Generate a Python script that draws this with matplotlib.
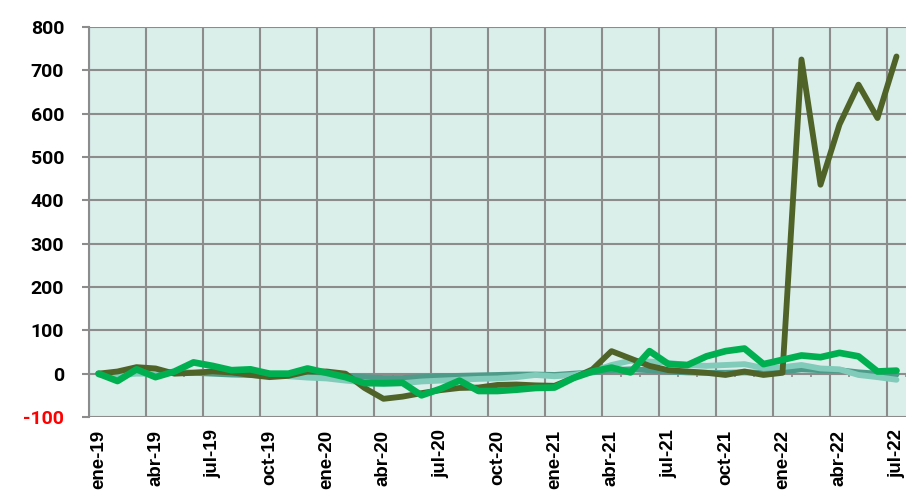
import numpy as np
import matplotlib
matplotlib.use("Agg")
import matplotlib.pyplot as plt

# month labels ene-19 .. jul-22 (43 months), one label every quarter
months = ["ene", "feb", "mar", "abr", "may", "jun", "jul", "ago", "sep", "oct", "nov", "dic"]
periods = [f"{months[i % 12]}-{19 + i // 12}" for i in range(43)]

# series values
olive = [0, 5, 15, 12, 0, 2, 5, 3, -3, -8, -5, 5, 5, 0, -33, -58, -53, -45, -38, -33,
         -32, -26, -25, -27, -28, -10, 10, 52, 35, 18, 8, 5, 2, -3, 5, -3, 2, 725,
         436, 575, 667, 590, 732]
green = [0, -17, 10, -8, 5, 26, 18, 8, 10, 0, 0, 12, 2, -8, -22, -22, -21, -50, -35, -16,
         -40, -40, -37, -33, -32, -10, 5, 14, 3, 52, 22, 20, 40, 52, 58, 22, 32, 42,
         38, 48, 40, 5, 7]
teal = [-2, -3, 0, 0, 2, 3, 5, 5, 3, 0, -6, -9, -11, -16, -20, -24, -22, -18, -16, -14,
        -12, -11, -8, -3, -6, -3, 5, 20, 30, 28, 25, 20, 18, 20, 22, 13, 15, 20,
        12, 10, -3, -8, -14]
dark_teal = [0, -2, 2, 5, 3, 2, 0, -2, -3, -5, -5, -3, -3, -5, -8, -10, -10, -8, -6, -5,
             -4, -3, -2, -2, -3, 0, 3, 8, 10, 8, 5, 3, 2, 2, 3, 2, 5, 10, 8, 8, 3, 0, -2]

yticks = list(range(-100, 801, 100))

fig = plt.figure(figsize=(9.11, 5.0), dpi=100)
ax = fig.add_axes([0.0977, 0.166, 0.8968, 0.78])
ax.set_facecolor("#daeeea")

x = np.arange(len(periods))
grid_c = "#8c8c8c"

# gridlines
for v in yticks:
    ax.axhline(v, color=grid_c, lw=1.5, zorder=1)
for b in np.arange(-0.5, len(periods), 3):
    ax.axvline(b, color=grid_c, lw=1.5, zorder=1)
# small month ticks on the zero line
ax.vlines(np.arange(-0.5, len(periods), 1), -8, 0, color=grid_c, lw=1.2, zorder=1)

kw = dict(solid_joinstyle="round", solid_capstyle="round", zorder=3)
ax.plot(x, dark_teal, color="#4e9b8a", lw=4.2, **kw)
ax.plot(x, teal, color="#80cbb9", lw=4.2, **kw)
ax.plot(x, olive, color="#4f6228", lw=4.2, **kw)
ax.plot(x, green, color="#00b050", lw=4.8, **kw)

ax.set_xlim(-0.5, len(periods) - 0.5)
ax.set_ylim(-100, 800)

ax.set_yticks(yticks)
ax.set_yticklabels([str(v) for v in yticks], fontfamily="Roboto",
                   fontweight="bold", fontsize=14)
ax.get_yticklabels()[0].set_color("red")
ax.tick_params(axis="y", length=5, width=1.5, color=grid_c, pad=13)

ax.set_xticks(x[::3])
ax.set_xticklabels(periods[::3], rotation=90, fontfamily="Liberation Sans",
                   fontweight="bold", fontsize=13.5, va="top", ha="center")
ax.tick_params(axis="x", length=0, pad=9)

for s in ["top", "right", "bottom"]:
    ax.spines[s].set_visible(False)
ax.spines["left"].set_color(grid_c)
ax.spines["left"].set_linewidth(1.5)

fig.savefig("out.png", dpi=100)
